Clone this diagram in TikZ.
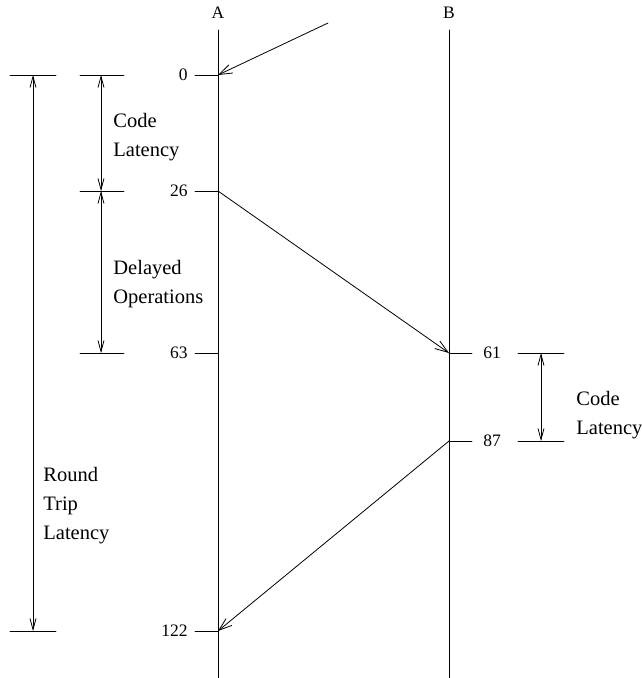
\documentclass[tikz,border=0pt]{standalone}
\usepackage{fontspec}
\setmainfont{Liberation Serif}
\usetikzlibrary{arrows.meta}

\begin{document}
\begin{tikzpicture}[x=1pt,y=-1pt,line width=0.8pt,line cap=round,
  msg/.style={-{Straight Barb[length=13pt,width=9pt]}},
  span/.style={{Straight Barb[length=11pt,width=6pt]}-{Straight Barb[length=11pt,width=6pt]}},
  num/.style={font=\fontsize{17.5}{20}\selectfont,inner sep=0pt},
  lab/.style={font=\fontsize{20.5}{29}\selectfont,align=left,anchor=west,inner sep=0pt}]
\useasboundingbox (0,0) rectangle (642,678);
% the two time lines
\node[num] (A) at (218,12.5) {A};
\node[num] (B) at (449,12.5) {B};
\draw (218,30) coordinate (Atop) -- (218,678) coordinate (Abot);
\draw (449,30) coordinate (Btop) -- (449,678) coordinate (Bbot);
% ticks on A and B
\foreach \y/\t in {75/0,191/26,353/63,631/122}{\draw (195,\y)--(218,\y) coordinate (a\t);\node[num,anchor=east] (na\t) at (188,\y) {\t};}
\foreach \y/\t in {353/61,441/87}{\draw (449,\y) coordinate (b\t)--(472,\y);\node[num,anchor=west] (nb\t) at (483,\y) {\t};}
% messages
\coordinate (start) at (328,23);
\draw[msg] (start)--(a0);
\draw[msg] (a26)--(b61);
\draw[msg] (b87)--(a122);
% spans on the left
\foreach \y/\n in {75/c0,191/c26,353/c63}{\draw (80,\y)--(124,\y);\coordinate (\n) at (101,\y);}
\draw[span] (c0)--(c26);
\draw[span] (c26)--(c63);
\node[lab] (code) at (113,137) {Code\\Latency};
\node[lab] (delay) at (113,284) {Delayed\\Operations};
\foreach \y/\n in {75/r0,631/r122}{\draw (10,\y)--(56,\y);\coordinate (\n) at (33,\y);}
\draw[span] (r0)--(r122);
\node[lab] (trip) at (43,506) {Round\\Trip\\Latency};
% span on the right
\foreach \y/\n in {353/s61,441/s87}{\draw (518,\y)--(564,\y);\coordinate (\n) at (541,\y);}
\draw[span] (s61)--(s87);
\node[lab] (codeb) at (576,415) {Code\\Latency};
\end{tikzpicture}
\end{document}
